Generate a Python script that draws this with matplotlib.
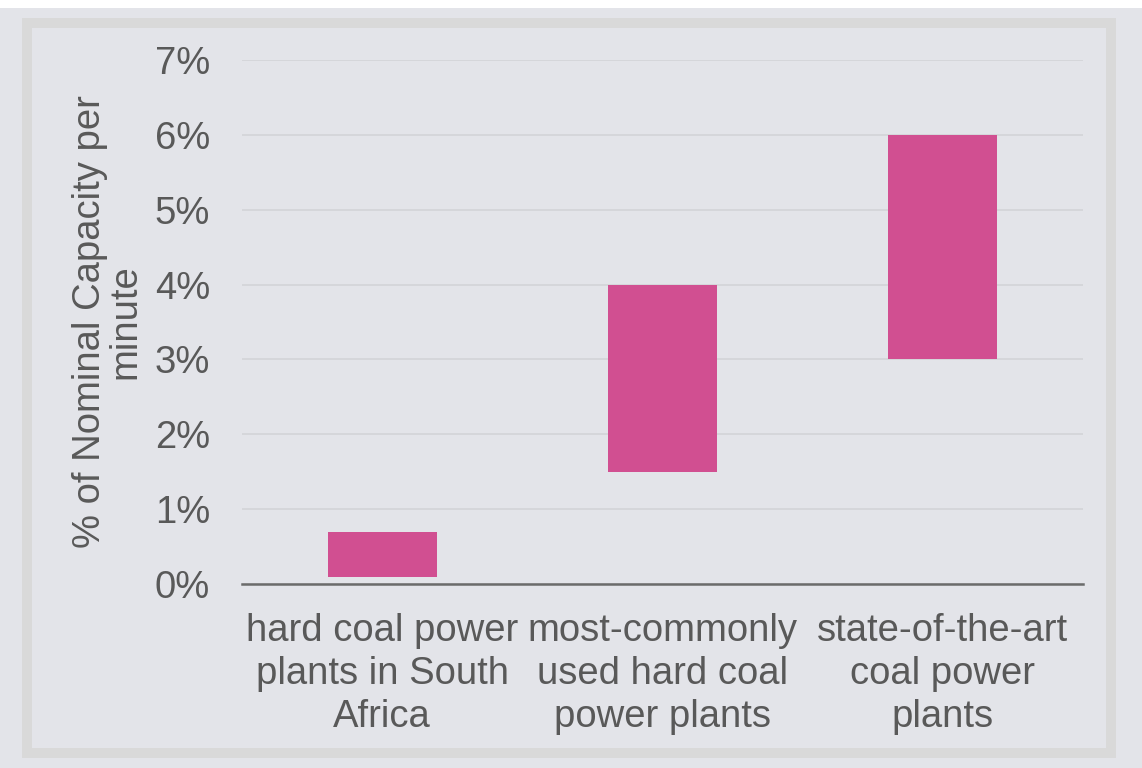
import matplotlib.pyplot as plt
from matplotlib.patches import Rectangle
from matplotlib.ticker import FuncFormatter

# ramp rate ranges, % of nominal capacity per minute
categories = [
    "hard coal power\nplants in South\nAfrica",
    "most-commonly\nused hard coal\npower plants",
    "state-of-the-art\ncoal power\nplants",
]
ramp_low = [0.1, 1.5, 3.0]
ramp_high = [0.7, 4.0, 6.0]
y_ticks = [0, 1, 2, 3, 4, 5, 6, 7]

plt.rcParams['font.family'] = ['Liberation Sans', 'DejaVu Sans']

W, H = 1142, 768
bg = '#e3e4e9'
text_col = '#595959'
bar_col = '#d14f91'
fs = 27.5

fig = plt.figure(figsize=(W / 100, H / 100), dpi=100, facecolor=bg)

# white strip along the top edge
fig.patches.append(Rectangle((0, 1 - 8 / H), 1, 8 / H, transform=fig.transFigure,
                             facecolor='white', edgecolor='none', zorder=0))
# light frame around the chart area
fw = 10
fig.patches.append(Rectangle(((22 + fw / 2) / W, (H - 758 + fw / 2) / H),
                             (1116 - 22 - fw) / W, (758 - 18 - fw) / H,
                             transform=fig.transFigure, facecolor='none',
                             edgecolor='#d9d9d9', linewidth=fw * 0.72, zorder=0))

ax = fig.add_axes([242 / W, (H - 584) / H, (1083 - 242) / W, (584 - 60) / H])
ax.set_facecolor(bg)

x = range(len(categories))
heights = [hi - lo for lo, hi in zip(ramp_low, ramp_high)]
ax.bar(x, heights, bottom=ramp_low, width=0.39, color=bar_col, zorder=3)

ax.set_xlim(-0.5, len(categories) - 0.5)
ax.set_ylim(0, 7)
ax.set_yticks(y_ticks)
ax.yaxis.set_major_formatter(FuncFormatter(lambda v, _: f"{v:.0f}%"))
ax.grid(axis='y', color='#d3d4d8', linewidth=1.2, zorder=0)

for side in ['top', 'right', 'left']:
    ax.spines[side].set_visible(False)
ax.spines['bottom'].set_color('#6b6b6b')
ax.spines['bottom'].set_linewidth(1.8)
ax.spines['bottom'].set_zorder(4)

ax.set_xticks(list(x))
ax.set_xticklabels(categories, fontsize=fs, color=text_col, linespacing=1.24)
ax.tick_params(axis='x', length=0, pad=21)
ax.tick_params(axis='y', length=0, labelsize=fs, labelcolor=text_col, pad=23)

ax.set_ylabel("% of Nominal Capacity per\nminute", fontsize=fs, color=text_col,
              linespacing=1.0, labelpad=8)

fig.savefig("out.png", dpi=100, facecolor=bg)
